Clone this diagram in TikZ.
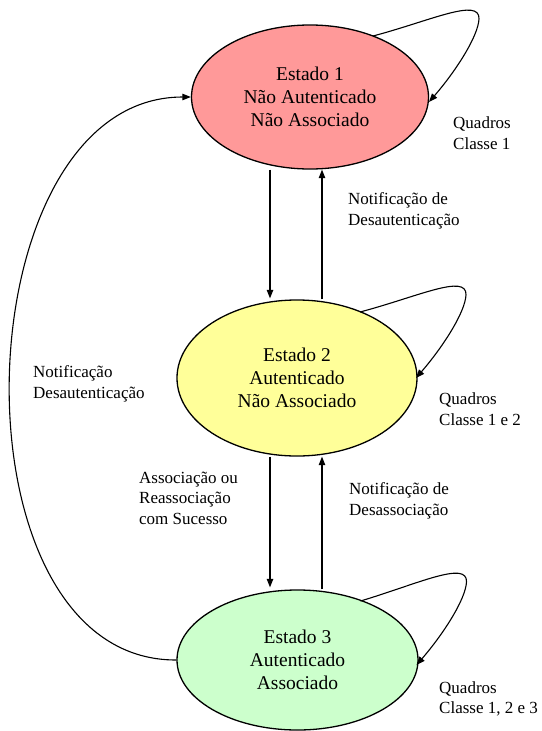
\documentclass[tikz,border=0pt]{standalone}
\usepackage{fontspec}
\setmainfont{Liberation Serif}
\usetikzlibrary{arrows.meta,shapes.geometric}

\definecolor{rosa}{HTML}{FF9999}
\definecolor{amarelo}{HTML}{FFFF99}
\definecolor{verde}{HTML}{CCFFCC}

\begin{document}
\begin{tikzpicture}[x=1pt,y=-1pt,
  state/.style={ellipse, draw, line width=1.3pt, inner sep=0pt, align=center,
                font=\fontsize{19.5}{23}\selectfont},
  note/.style={anchor=west, align=left, inner sep=0pt,
               font=\fontsize{17}{20.5}\selectfont},
  trans/.style={line width=1.1pt, -{Triangle[length=8.5pt,width=6.5pt]}},
]
\useasboundingbox (0,0) rectangle (541,731);

% estados
\node[state, fill=rosa, minimum width=237pt, minimum height=144pt] (e1) at (310,97)
  {Estado 1\\Não Autenticado\\Não Associado};
\node[state, fill=amarelo, minimum width=240pt, minimum height=156pt] (e2) at (297,378)
  {Estado 2\\Autenticado\\Não Associado};
\node[state, fill=verde, minimum width=241pt, minimum height=140pt] (e3) at (297.5,660)
  {Estado 3\\Autenticado\\Associado};

% transições verticais
\draw[trans] ([shift={(-40,0)}]e1.south) -- ([shift={(-27,-1)}]e2.north);
\draw[trans] ([shift={(25,0)}]e2.north) -- ([shift={(12,0)}]e1.south);
\draw[trans] ([shift={(-27,0)}]e2.south) -- ([shift={(-27.5,-2)}]e3.north);
\draw[trans] ([shift={(24.5,0)}]e3.north) -- ([shift={(25,0)}]e2.south);

% desautenticação: do estado 3 ao estado 1
\draw[trans] (e3.west) .. controls (-55,661) and (-40,97) .. (e1.west);

% laços de quadros permitidos
\foreach \n/\s/\d in {e1/-61/0, e2/-66/-5, e3/-59/0} {
  \draw[trans] ([shift={(63,\s)}]\n.center)
    .. controls ([shift={(120,-76+\d)}]\n.center) and ([shift={(170,-100+\d)}]\n.center)
    .. ([shift={(169,-78+\d)}]\n.center)
    .. controls ([shift={(168,-60+\d)}]\n.center) and ([shift={(145,-25+\d)}]\n.center)
    .. ([shift={(119,5+\d)}]\n.center);
}

% rótulos
\node[note] (q1) at (453,133) {Quadros\\Classe 1};
\node[note] (n12) at (348,211) {Notificação de\\Desautenticação};
\node[note] (q2) at (439,409) {Quadros\\Classe 1 e 2};
\node[note] (n31) at (33,384) {Notificação\\Desautenticação};
\node[note] (a23) at (139,498) {Associação ou\\Reassociação\\com Sucesso};
\node[note] (n32) at (349,501) {Notificação de\\Desassociação};
\node[note] (q3) at (439,699) {Quadros\\Classe 1, 2 e 3};
\end{tikzpicture}
\end{document}
